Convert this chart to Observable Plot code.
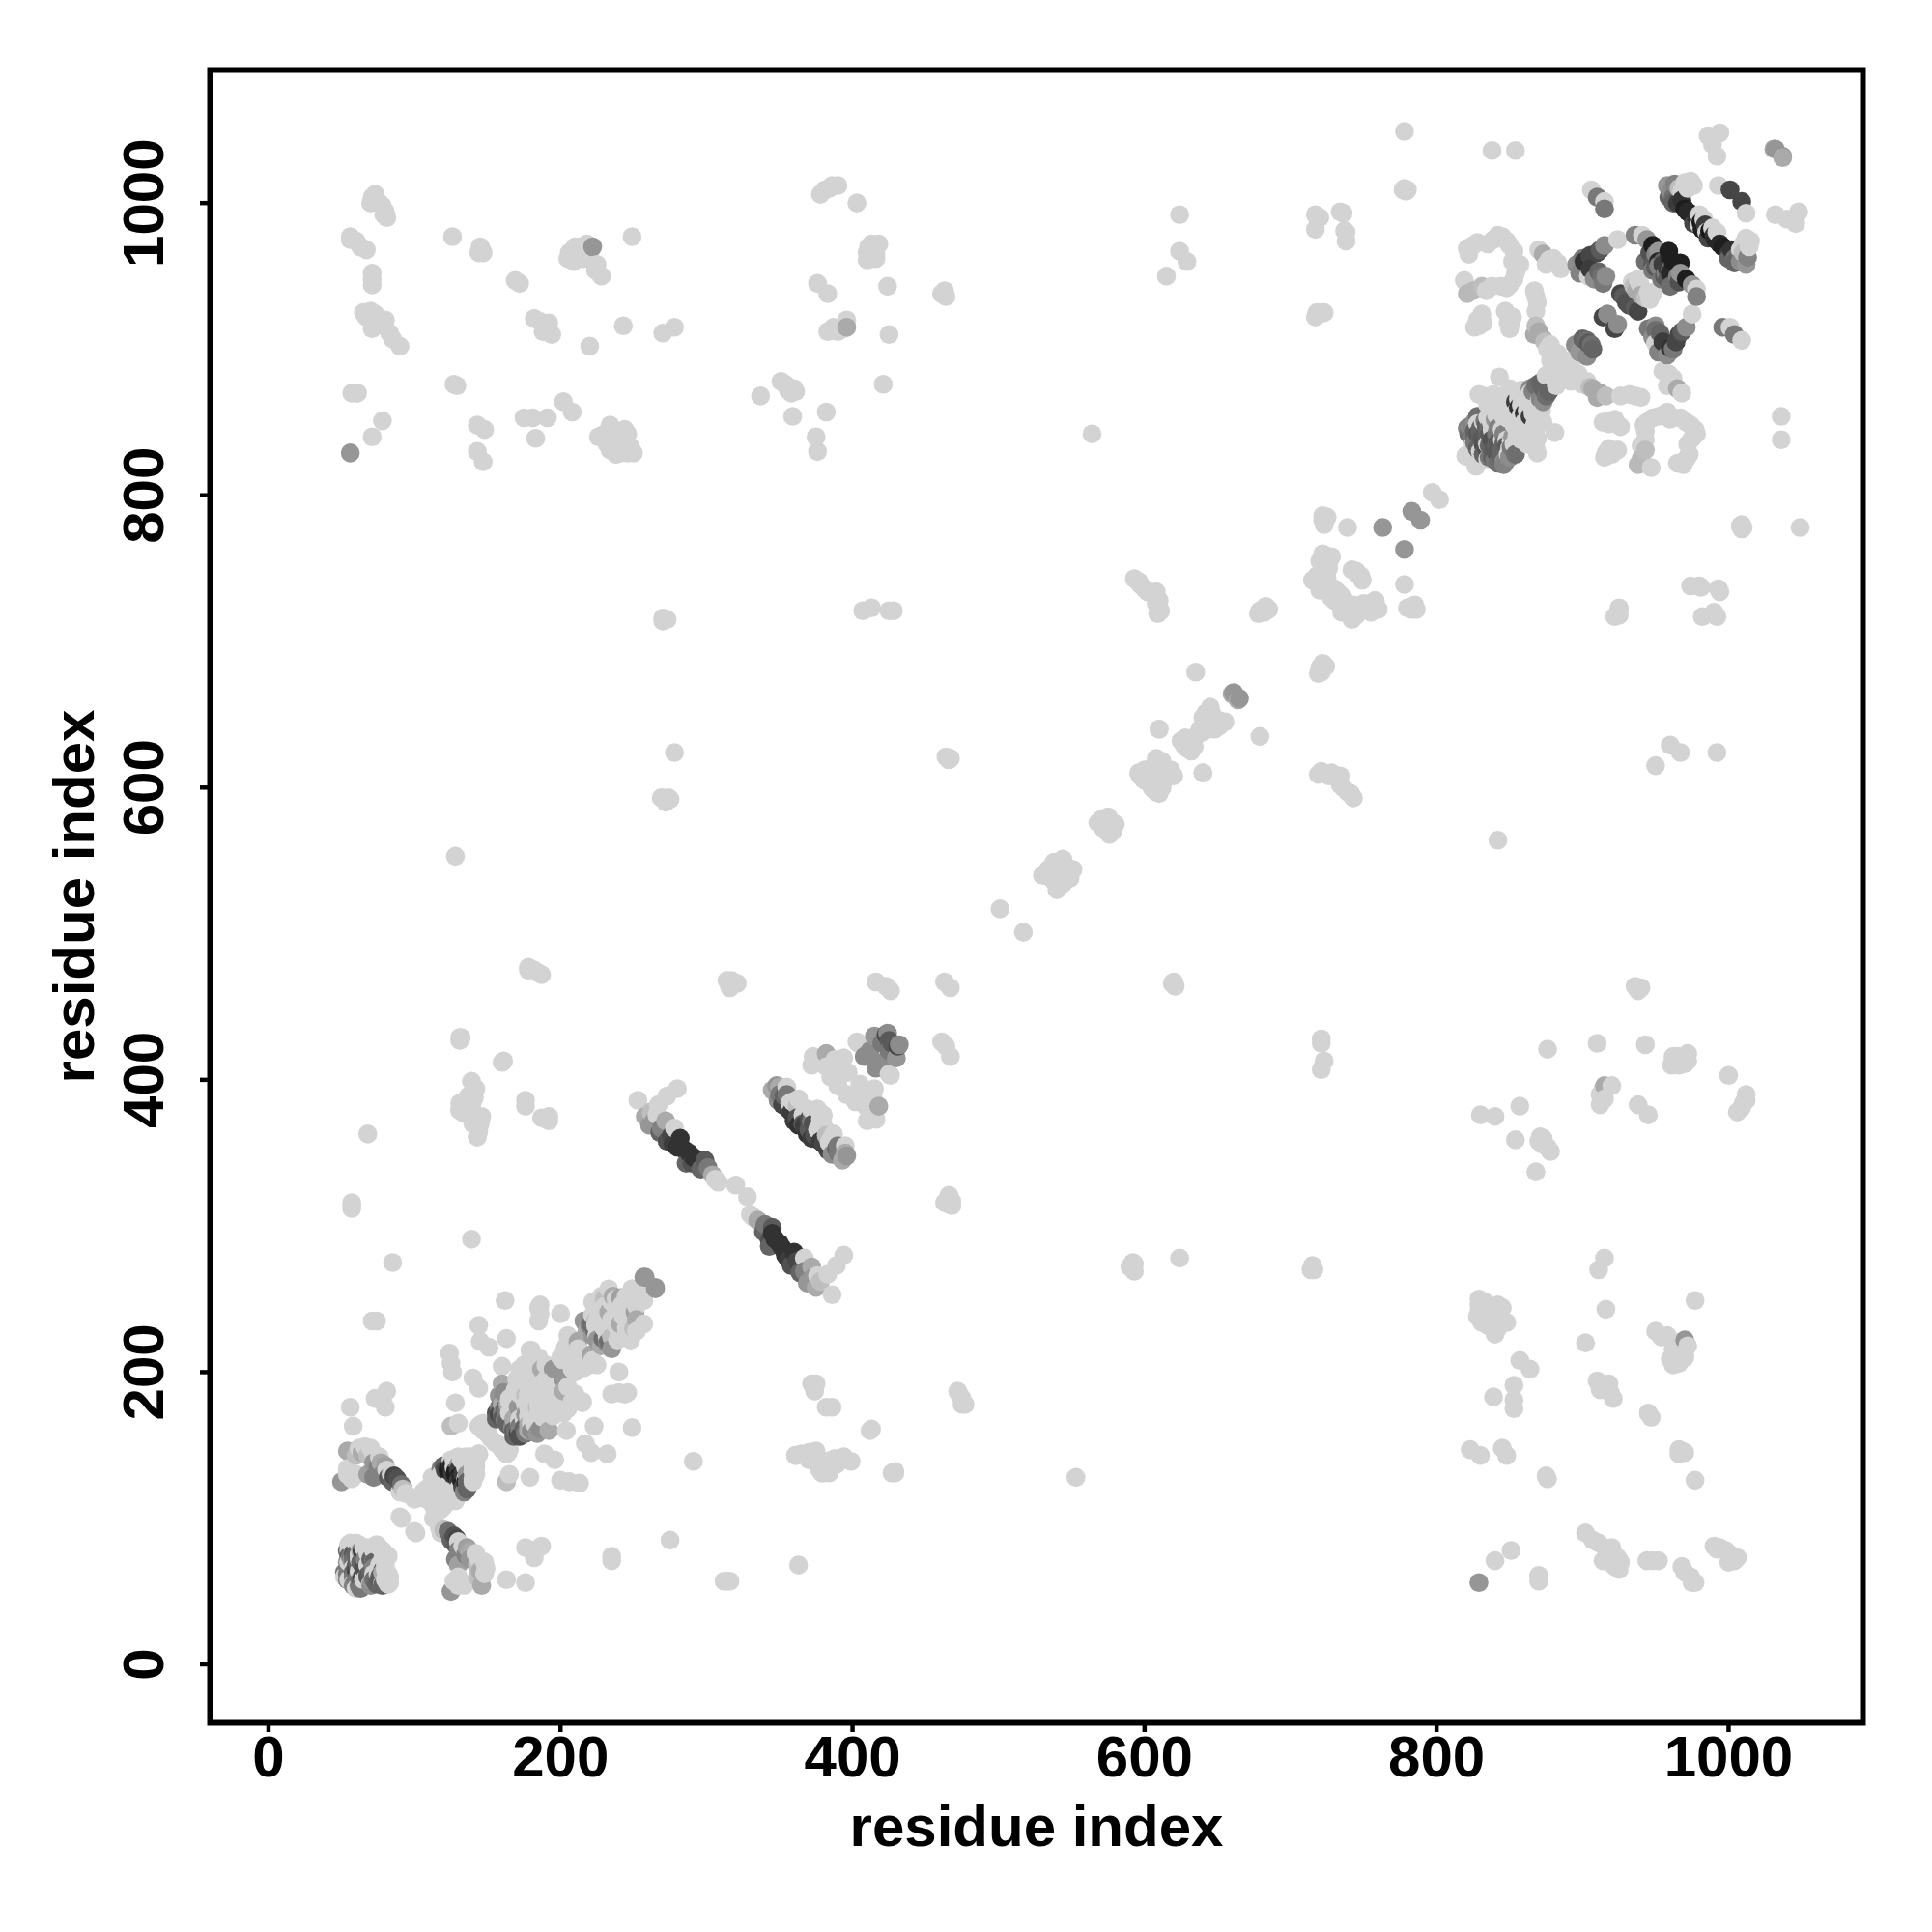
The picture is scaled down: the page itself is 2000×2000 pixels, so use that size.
<!DOCTYPE html>
<html>
<head>
<meta charset="utf-8">
<script src="https://cdn.jsdelivr.net/npm/d3@7"></script>
<script src="https://cdn.jsdelivr.net/npm/@observablehq/plot@0.6"></script>
<style>html,body{margin:0;padding:0;background:#fff}</style>
</head>
<body>
<div id="chart"></div>
<script>
// residue contacts [i, j] with i < j; the map is symmetric so each contact also appears as [j, i]
const farLightContacts = [
[57,870],[61,870],[60,870],[71,840],[78,851],[67,922],[73,924],[71,914],[79,916],[83,911],[85,907],[90,902],[71,952],[71,944],[71,948],
[71,918],[75,918],[65,925],[70,926],[80,920],
[56,977],[60,974],[63,970],[67,968],[56,975],[71,1004],[74,1002],[78,998],[80,994],[81,990],[73,1006],[70,1000],[76,1000],[72,1002],[79,992],
[126,977],[146,968],[144,966],[147,966],[145,970],
[169,947],[172,945],[209,966],[213,966],[209,960],[206,966],[212,970],[216,962],[205,962],[220,966],[218,972],[210,970],
[224,954],[225,958],[228,950],[249,977],[186,919],[190,915],[194,910],[188,912],[192,918],[182,921],[220,902],
[243,916],[270,911],[278,915],[127,876],[129,875],[143,848],[148,845],[143,830],[147,823],[175,853],[181,853],[191,853],
[183,839],[202,864],[208,857],[226,840],[234,848],[239,842],[246,842],[234,831],[241,829],[246,829],
[240,840],[236,836],[244,845],[238,828],[232,835],[230,842],[250,829],[248,833],
[337,868],[354,876],[360,873],[361,871],[358,870],[356,872],[351,878],[359,854],[382,857],[375,840],[376,830],
[381,1009],[386,1012],[390,1012],[384,1010],[378,1006],[403,1000],
[376,945],[383,938],[386,913],[394,914],[396,920],[387,915],[390,912],[383,912],[413,972],[415,968],[410,961],[416,965],[416,962],[413,962],[410,966],[418,972],[411,970],[424,943],[425,910],[421,876],
[461,938],[463,940],[464,936],[564,842],[624,992],[624,967],[629,960],[615,950],[717,992],[717,982],[734,994],[736,993],[738,974],[738,980],[720,990],
[717,922],[722,925],[723,925],[718,925],[778,1049],[777,1009],[780,1009],[779,1008],
[270,716],[273,715],[270,714],[278,624],[269,593],[275,592],[274,593],[272,590],[128,553],[178,477],[185,473],[182,475],[187,472],[178,475],[132,429],[131,427],[161,413],[68,363],
[142,394],[137,389],[131,380],[139,382],[146,375],[144,365],[176,386],[176,382],[192,375],[187,374],[139,378],[141,388],[140,370],[145,370],[192,372],[57,316],[57,312],[57,314],
[139,291],[85,275],[315,466],[319,466],[317,468],[314,468],[316,463],[321,466],[143,361],[145,374],[140,386],[139,399],[131,379],[131,429],[160,412],[377,134],[384,131],[361,143],
[416,467],[423,464],[426,461],[463,467],[407,721],[413,723],[425,721],[428,721],[464,621],[467,620],[466,619],
[593,743],[597,739],[602,734],[608,734],[608,726],[611,721],[605,733],[610,728],[609,719],[600,736],[596,741],
[679,721],[683,724],[678,719],[682,720],[685,722],[722,783],[725,785],[723,780],[722,786],[739,778],
[723,783],[635,679],[610,640],[642,651],[651,646],[631,633],[635,635],[627,629],[640,610],[625,632],[634,628],[638,640],[648,640],[655,645],
[597,608],[606,599],[610,616],[618,612],[608,620],[602,609],[596,610],[600,605],[604,603],[612,610],[614,606],[606,612],[600,612],
[570,578],[576,572],[568,576],[572,572],[575,580],[534,544],[541,538],[544,551],[549,544],[538,549],[530,540],[538,536],[536,545],[542,548],[546,546],
[501,517],[715,742],[724,755],[724,742],[732,734],[737,726],[741,720],[745,747],[749,742],[726,754],[723,758],[718,745],[720,735],[722,738],[728,730],[730,736],[735,730],[738,720],[743,725],[748,745],[752,725],[755,720],[760,722],[726,750],[722,750],[728,758],[797,802],
[986,1046],[994,1048],[992,1032],[989,1040],[838,1036],[854,1036],[737,981],[778,1010]
];
const clusterLightContacts = [
[821,969],[825,971],[839,975],[845,977],[850,971],[853,967],[855,955],[853,948],[844,943],[838,943],[819,947],[831,924],[829,916],
[849,923],[851,918],[850,914],[868,936],[868,926],[877,961],[883,959],[878,903],[883,897],[879,885],[884,883],[890,885],
[822,965],[828,973],[835,972],[842,978],[848,974],[852,960],[857,958],[854,952],[850,944],[848,942],[834,940],[828,920],[832,918],[826,915],[849,918],[852,922],[847,926],[869,932],[867,940],[875,958],[880,962],[870,968],[885,955],[876,900],[880,892],[885,888],[888,880],[893,880],[882,878],[875,882],[878,892],[890,892],
[904,950],[924,975],[941,978],[939,945],[946,939],[938,948],[934,946],[974,1015],[970,1014],[985,980],[993,1012],[906,1009],[915,1001],[972,1010],[976,1012],[968,1008],[992,980],[989,983],
[843,881],[829,869],[839,869],[846,868],[851,837],[853,848],[862,852],[867,848],[841,862],[820,827],[827,820],[849,828],[853,835],[855,841],[864,863],[861,865],
[825,835],[830,830],[835,835],[838,845],[845,845],[848,838],[850,832],[858,845],[860,848],[862,858],[855,858],[848,858],[835,862],[832,868],[850,860],[845,855],[852,855],[858,838],[862,842],[870,852],[872,858],[866,856],[856,870],[850,873],[864,870],[868,860]
];
const lowLightContacts = [
[71,235],[74,235],[162,249],[185,244],[186,246],[185,235],[186,240],[200,240],[144,232],[145,221],[151,217],[163,223],[180,215],
[124,213],[125,206],[126,200],[160,204],[140,196],[144,189],[128,179],[130,165],[145,164],[150,158],[158,150],[163,144],
[128,141],[144,144],[140,127],[112,125],[116,118],[108,120],[57,131],[66,149],[72,144],[81,133],[94,117],[100,113],[91,100],[101,90],
[56,176],[58,163],[78,182],[81,187],[73,182],[80,176],[56,83],[74,82],[81,75],[82,58],[64,62],
[174,191],[172,202],[179,215],[178,200],[165,182],[182,175],[169,188],[182,192],[204,218],[207,213],[202,208],[220,208],[213,204],
[222,248],[222,239],[224,232],[233,257],[238,250],[249,257],[257,249],[246,243],[236,235],[147,160],[155,152],[147,165],[135,142],[120,130],[115,112],
[165,172],[168,175],[170,180],[172,185],[175,195],[176,178],[178,185],[180,190],[183,182],[185,178],[170,195],[175,205],[180,208],[185,210],[190,195],[192,187],[188,185],[185,195],[190,205],[195,195],[178,170],[172,168],[186,172],[180,165],[190,178],
[205,225],[208,222],[212,215],[216,212],[203,216],[200,210],[210,208],[215,208],[225,225],[226,240],[228,235],[230,245],[232,238],[235,248],[238,243],[240,238],[242,246],[245,250],[248,240],[250,250],[252,245],[255,255],[225,245],[228,252],[230,230],[235,225],
[132,140],[135,135],[136,130],[125,140],[130,142],[140,135],[138,142],[115,125],[122,122],[125,120],[128,112],[118,106],[110,112],[112,118],[106,114],[120,115],[130,118],[135,127],
[62,148],[70,148],[76,142],[84,130],[90,118],[54,134],[57,127],[60,130],[54,130],
[55,82],[58,80],[60,83],[65,80],[68,76],[72,78],[78,78],[55,70],[58,66],[55,58],[60,52],[65,58],[70,55],[75,62],[80,68],[82,62],[78,55],[82,55],[62,72],[68,68],[72,70],
[253,386],[280,394],[273,389],[267,383],[266,376],[278,367],[306,332],[308,330],[320,328],[359,385],[366,376],[376,380],[403,426],
[355,395],[363,387],[369,380],[357,384],[372,379],[378,373],
[425,404],[373,416],[372,410],[388,414],[397,405],[390,396],[385,402],[396,390],
[378,412],[382,409],[392,409],[404,392],[415,394]
];
const shadedContacts = [
[56,829,150],[222,970,150],[396,915,170],[763,778,150],[783,789,150],[661,665,150],[664,660,170],[1032,1037,150],[1031,1037,170],
[831,943,190],[825,940,185],[821,938,185],[873,965,170],[867,910,170],[873,907,170],[870,912,170],[874,905,190],[868,916,190],
[900,907,100],[895,903,140],[904,904,90],[898,898,150],[906,903,110],[868,875,110],[873,873,100],[864,873,140],
[896,958,140],[901,960,50],[910,966,70],[915,971,140],[936,978,130],[948,971,30],[952,967,150],[959,967,30],
[914,945,120],[911,953,100],[928,936,90],[926,938,70],[932,930,80],[935,943,190],[940,937,170],[917,924,140],[914,922,70],
[950,956,90],[943,960,110],[957,952,130],[963,1013,130],[959,1004,100],[962,1000,100],[970,996,30],[975,991,40],[981,987,25],
[905,955,60],[898,952,130],[900,962,120],[905,964,70],[912,968,90],[908,948,140],[913,950,110],[916,950,140],[944,975,150],[946,966,80],[948,958,90],[952,960,40],[955,958,60],[954,948,120],[960,962,30],[960,955,100],[965,950,130],
[960,1008,140],[962,1004,110],[965,1000,60],[968,1002,50],[972,994,40],[978,990,50],[976,986,70],[984,985,60],[958,1012,150],[966,1010,190],[982,982,30],
[1001,1009,70],[910,1004,120],[915,996,120],[854,864,60],[860,856,50],[871,877,100],[866,871,130],
[823,846,140],[828,854,110],[831,839,90],[840,852,150],[844,830,100],[835,841,100],[846,821,130],[838,830,100],[833,851,120],[829,841,90],[842,841,120],[842,828,90],
[822,842,110],[826,838,100],[828,832,110],[832,828,100],[836,826,120],[840,824,120],[848,824,130],[826,850,130],[830,846,100],[834,848,90],[838,838,80],[842,836,90],[846,834,100],[850,826,140],[832,834,80],[836,834,100],[840,832,90],[844,826,100],[836,846,110],[842,846,140],[846,842,130],
[258,375,170],[261,369,150],[269,367,130],[273,358,80],[282,360,50],[280,354,50],[291,347,50],[295,345,50],[286,343,100],[301,340,120],
[264,372,150],[268,364,100],[276,362,70],[277,356,60],[285,352,50],[288,350,50],[290,343,80],[296,339,100],[299,345,90],[304,335,170],[272,372,170],[262,378,190],
[348,396,150],[355,390,120],[352,383,70],[363,369,50],[369,367,60],[350,390,120],[353,389,100],[356,380,70],[358,378,60],[362,374,80],[360,372,60],[366,370,90],[345,393,170],[349,386,140],[362,382,190],[370,373,80],[372,372,120],
[423,431,70],[432,424,140],[408,416,140],[382,418,170],[395,350,170],[412,420,140],[415,430,150],[420,425,120],[427,425,90],
[123,133,30],[120,136,100],[130,128,30],[132,126,40],[136,125,100],[54,146,170],[50,125,150],[77,138,170],[88,127,80],[91,123,110],[72,128,130],[68,130,160],
[125,135,40],[128,132,30],[126,130,60],[133,130,60],[121,133,70],[118,134,130],[130,136,150],
[60,143,190],[64,145,170],[68,143,190],[72,138,150],[75,135,130],[78,130,130],[82,128,90],[85,125,100],[86,129,70],[80,136,160],[92,120,190],
[54,78,100],[52,63,120],[62,54,120],[63,78,170],[70,63,100],[74,55,100],[61,68,100],[57,71,150],
[56,74,120],[54,70,140],[60,76,100],[58,60,120],[54,58,130],[66,65,80],[68,60,90],[72,58,110],[76,58,90],[78,64,60],[63,58,100],[60,64,70],[66,72,130],[70,72,100],
[125,163,190],[161,186,140],[158,171,70],[163,166,100],[169,160,110],[171,176,150],[176,184,190],[162,175,100],[164,178,170],
[160,180,140],[158,176,120],[156,168,100],[160,168,90],[164,164,100],[167,162,130],[172,160,130],[178,160,170],[156,172,80],[160,192,170],[158,184,150],[163,172,120],[168,168,170],
[187,202,170],[196,202,150],[202,195,150],[212,221,165],[221,233,110],[229,223,110],[241,251,160],[233,241,170],[258,265,150],[265,257,150],
[220,232,130],[224,235,190],[218,228,170],[225,222,150],[236,252,170],[230,250,190],[216,235,150]
];
const tickValues = [0, 200, 400, 600, 800, 1000];
const axisTitle = "residue index";

const pairs = [
  ...farLightContacts.map(([i, j]) => [i, j, 211]),
  ...clusterLightContacts.map(([i, j]) => [i, j, 211]),
  ...lowLightContacts.map(([i, j]) => [i, j, 211]),
  ...shadedContacts
];
const rows = pairs.flatMap(([i, j, g]) => [{x: i, y: j, g}, {x: j, y: i, g}])
  .sort((a, b) => d3.ascending(a.x, b.x) || d3.descending(a.y, b.y));

const chart = Plot.plot({
  width: 2000, height: 2000,
  marginLeft: 217, marginRight: 72, marginTop: 72, marginBottom: 217,
  x: {domain: [-40, 1092]},
  y: {domain: [-40, 1091]},
  color: {type: "linear", domain: [0, 255], range: ["#000", "#fff"]},
  style: {fontFamily: "Liberation Sans", fontWeight: "bold", fontSize: "60px", color: "#000", background: "#fff"},
  marks: [
    Plot.dot(rows, {x: "x", y: "y", fill: "g", r: 9.8}),
    Plot.frame({stroke: "#000", strokeWidth: 6}),
    Plot.axisX({ticks: tickValues, tickSize: 10, tickPadding: 3, strokeWidth: 4.5, fontSize: 60, fill: "#000", label: null, tickFormat: d => String(d)}),
    Plot.axisY({ticks: tickValues, tickSize: 10, tickPadding: 39, strokeWidth: 4.5, fontSize: 60, fill: "#000", label: null, tickRotate: -90, tickFormat: d => String(d)}),
    Plot.text([axisTitle], {frameAnchor: "bottom", dy: 127, fontSize: 60, fontWeight: "bold", fill: "#000", lineAnchor: "bottom"}),
    Plot.text([axisTitle], {frameAnchor: "left", dx: -121, rotate: -90, fontSize: 60, fontWeight: "bold", fill: "#000", lineAnchor: "bottom", textAnchor: "middle"})
  ]
});
document.getElementById("chart").appendChild(chart);
</script>
</body>
</html>
